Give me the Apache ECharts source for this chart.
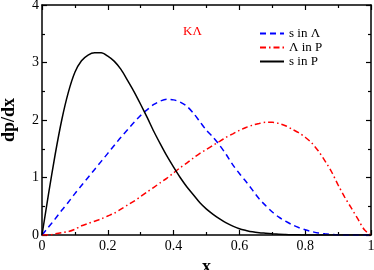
<!DOCTYPE html>
<html>
<head>
<meta charset="utf-8">
<script src="https://cdn.jsdelivr.net/npm/echarts@6/dist/echarts.min.js"></script>
<style>html,body{margin:0;padding:0;background:#fff}#c{width:374px;height:270px}</style>
</head>
<body>
<div id="c"></div>
<script>
var xValues = [0,0.02,0.04,0.06,0.08,0.10,0.12,0.14,0.16,0.18,0.20,0.22,0.24,0.26,0.28,0.30,0.32,0.34,0.36,0.38,0.40,0.42,0.44,0.46,0.48,0.50,0.52,0.54,0.56,0.58,0.60,0.62,0.64,0.66,0.68,0.70,0.72,0.74,0.76,0.78,0.80,0.82,0.84,0.86,0.88,0.90,0.92,0.94,0.96,0.98,1.00];
var sInLambda = [0,0.14,0.28,0.43,0.57,0.72,0.86,1.00,1.14,1.28,1.42,1.56,1.70,1.83,1.96,2.08,2.18,2.27,2.33,2.36,2.35,2.31,2.24,2.12,1.97,1.82,1.70,1.56,1.40,1.22,1.07,0.93,0.78,0.63,0.51,0.40,0.31,0.24,0.18,0.13,0.09,0.06,0.035,0.02,0.01,0.003,0,0,0,0,0];
var lambdaInP = [0,0,0.02,0.04,0.06,0.10,0.16,0.20,0.24,0.28,0.33,0.38,0.45,0.52,0.59,0.67,0.75,0.83,0.91,0.99,1.08,1.17,1.25,1.34,1.42,1.49,1.56,1.63,1.70,1.76,1.82,1.87,1.91,1.94,1.96,1.96,1.94,1.90,1.84,1.78,1.70,1.60,1.46,1.29,1.10,0.87,0.66,0.47,0.28,0.09,0];
var sInP = [0,0.72,1.40,2.00,2.48,2.83,3.03,3.13,3.17,3.17,3.11,3.02,2.88,2.69,2.49,2.27,2.04,1.80,1.58,1.37,1.18,1.00,0.84,0.70,0.56,0.45,0.36,0.28,0.21,0.155,0.11,0.08,0.055,0.04,0.03,0.02,0.012,0.008,0.005,0.003,0.001,0,0,0,0,0,0,0,0,0,0];
var seriesNames = ['s in \u039b', '\u039b in P', 's in P'];
var panelLabel = 'K\u039b';

function pairs(ys){ return xValues.map(function(x,i){ return [x, ys[i]]; }); }
var font = '"Liberation Serif", "Times New Roman", serif';
var chart = echarts.init(document.getElementById('c'));
var tickFmt = function(v){ return String(Math.round(v*10)/10); };
function mkAxis(kind, extra){
  var a = {type:'value', gridIndex:0,
    axisLine:{show:true, onZero:false, lineStyle:{color:'#000', width:1.5}},
    axisTick:{show:true, inside:true, length:5, lineStyle:{color:'#000', width:1.2}},
    minorTick:{show:true, splitNumber:2, length:3, lineStyle:{color:'#000', width:1.2}},
    splitLine:{show:false}, minorSplitLine:{show:false}};
  if (kind === 'x') { a.min = 0; a.max = 1; a.splitNumber = 5; }
  else { a.min = 0; a.max = 4; a.splitNumber = 4; }
  for (var k in extra) a[k] = extra[k];
  return a;
}
chart.setOption({
  animation:false,
  grid:{left:42, right:3, top:5, bottom:35, outerBoundsMode:'none', containLabel:false},
  title:{text:panelLabel, left:183, top:25, padding:0, textStyle:{color:'#ff0000', fontFamily:font, fontSize:13, fontWeight:'normal'}},
  legend:{orient:'vertical', left:259, top:27, padding:0, itemGap:1, itemWidth:24, itemHeight:10,
    itemStyle:{opacity:0},
    textStyle:{fontFamily:font, fontSize:13, color:'#000'}, data:seriesNames},
  xAxis:[
    mkAxis('x', {position:'bottom', name:'x', nameLocation:'middle', nameGap:20,
      nameTextStyle:{fontFamily:font, fontSize:18, fontWeight:'bold', color:'#000'},
      axisLabel:{show:true, margin:4, fontFamily:font, fontSize:14, color:'#000', formatter:tickFmt}}),
    mkAxis('x', {position:'top', axisLabel:{show:false}})
  ],
  yAxis:[
    mkAxis('y', {position:'left', name:'dp/dx', nameLocation:'middle', nameGap:24, nameRotate:90,
      nameTextStyle:{fontFamily:font, fontSize:18, fontWeight:'bold', color:'#000'},
      axisLabel:{show:true, margin:3, fontFamily:font, fontSize:14, color:'#000'}}),
    mkAxis('y', {position:'right', axisLabel:{show:false}})
  ],
  series:[
    {name:seriesNames[0], type:'line', data:pairs(sInLambda), showSymbol:false, symbol:'none', smooth:0.3,
      lineStyle:{color:'#0000ff', width:1.5, type:[6,4]}, itemStyle:{color:'#0000ff'}},
    {name:seriesNames[1], type:'line', data:pairs(lambdaInP), showSymbol:false, symbol:'none', smooth:0.3,
      lineStyle:{color:'#ff0000', width:1.5, type:[6,3,1.5,3]}, itemStyle:{color:'#ff0000'}},
    {name:seriesNames[2], type:'line', data:pairs(sInP), showSymbol:false, symbol:'none', smooth:0.3,
      lineStyle:{color:'#000000', width:1.5}, itemStyle:{color:'#000000'}}
  ]
});
</script>
</body>
</html>
